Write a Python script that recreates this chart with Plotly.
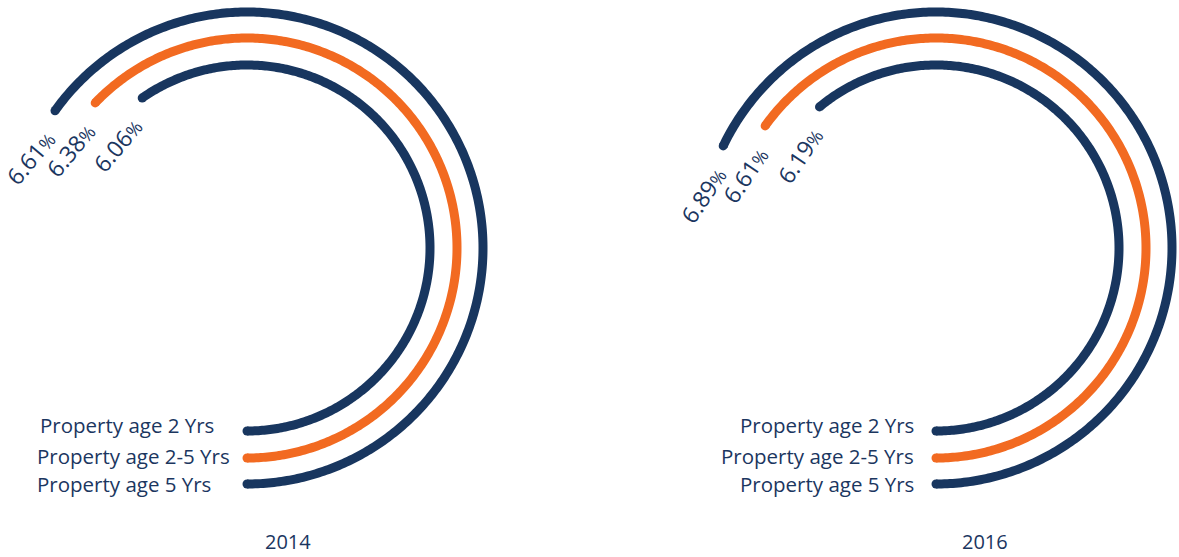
import numpy as np
import plotly.graph_objects as go

W, H = 1179, 557

# ---- data -------------------------------------------------------------
years = ["2014", "2016"]
series_names = ["Property age 2 Yrs", "Property age 2-5 Yrs", "Property age 5 Yrs"]
values_2014 = [6.06, 6.38, 6.61]
values_2016 = [6.19, 6.61, 6.89]
values_by_year = [values_2014, values_2016]

# ---- styling ----------------------------------------------------------
FULL_TURN = 10.15          # percentage represented by a complete 360° sweep
NAVY = "#18365f"
ORANGE = "#f26a21"
TEXT = "#1b365f"
FONT = "Open Sans"
series_colors = [NAVY, ORANGE, NAVY]
ring_radius = [183, 210, 236]
LINE_W = 9

centres = [(247, 248), (936, 248)]       # dial centres (px)
value_text_angle = [50, 56]              # counter-clockwise tilt of value labels
LABEL_GAP = 53                           # distance from arc end to label centre
LABEL_TURN = 12                          # extra inward swing of the label direction
legend_x = [[38, 35, 35], [916, 916, 916]]
legend_anchor = ["left", "right"]
legend_y = [425, 456, 484]
year_pos = [(288, 541), (985, 541)]

fig = go.Figure()
annotations = []

for d, (year, vals) in enumerate(zip(years, values_by_year)):
    cx, cy = centres[d]
    tilt = value_text_angle[d]
    for i, (name, v) in enumerate(zip(series_names, vals)):
        r = ring_radius[i]
        sweep = v / FULL_TURN * 360.0
        th = np.radians(270.0 + np.linspace(0.0, sweep, 360))
        xs = cx + r * np.cos(th)
        ys = cy - r * np.sin(th)
        fig.add_trace(go.Scatter(
            x=xs, y=ys, mode="lines",
            line=dict(color=series_colors[i], width=LINE_W, simplify=False),
            hoverinfo="skip", showlegend=False))
        # rounded ends
        fig.add_trace(go.Scatter(
            x=[xs[0], xs[-1]], y=[ys[0], ys[-1]], mode="markers",
            marker=dict(color=series_colors[i], size=LINE_W, line=dict(width=0)),
            hoverinfo="skip", showlegend=False))
        # value label trailing off the end of the arc
        dir_ = np.radians(180 + tilt + LABEL_TURN)
        annotations.append(dict(
            x=xs[-1] + LABEL_GAP * np.cos(dir_),
            y=ys[-1] - LABEL_GAP * np.sin(dir_),
            xref="x", yref="y", showarrow=False,
            text=f"{v:.2f}<span style='font-size:18px'>%</span>",
            textangle=-tilt,
            font=dict(family=FONT, size=23, color=TEXT),
            xanchor="center", yanchor="middle"))
        # series label beside the start of the ring
        annotations.append(dict(
            x=legend_x[d][i], y=legend_y[i], xref="x", yref="y",
            showarrow=False, text=name,
            font=dict(family=FONT, size=20.5, color=TEXT),
            xanchor=legend_anchor[d], yanchor="middle"))
    annotations.append(dict(
        x=year_pos[d][0], y=year_pos[d][1], xref="x", yref="y",
        showarrow=False, text=year,
        font=dict(family=FONT, size=20, color=TEXT),
        xanchor="center", yanchor="middle"))

fig.update_layout(
    width=W, height=H,
    margin=dict(l=0, r=0, t=0, b=0),
    paper_bgcolor="white", plot_bgcolor="white",
    xaxis=dict(range=[0, W], visible=False, fixedrange=True),
    yaxis=dict(range=[H, 0], visible=False, fixedrange=True),
    annotations=annotations,
    showlegend=False,
)

fig.write_html("out.html")
